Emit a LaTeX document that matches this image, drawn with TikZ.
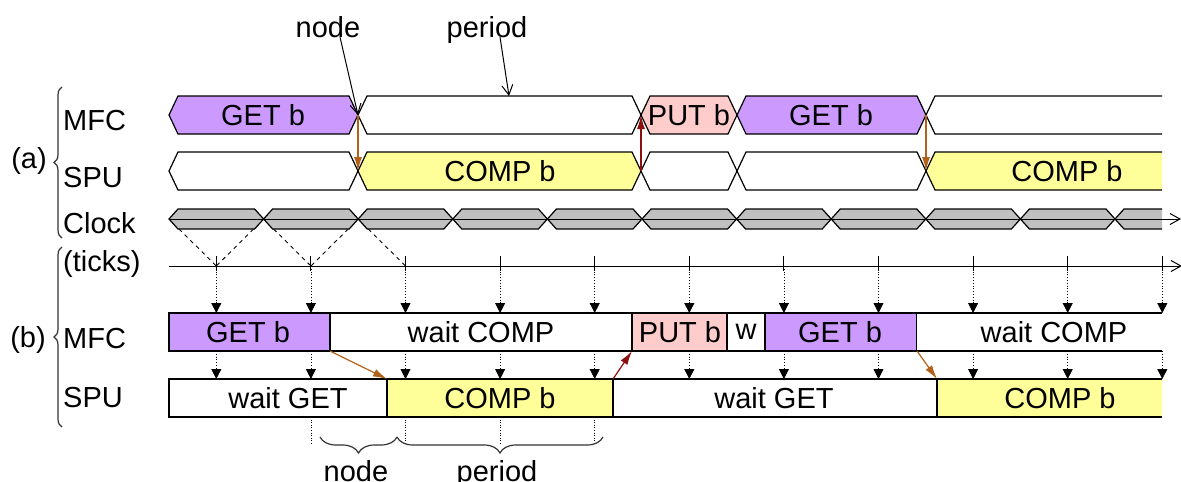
\documentclass[tikz,border=0pt]{standalone}
\usepackage{fontspec}
\setmainfont{Liberation Sans}
\usetikzlibrary{arrows.meta,decorations.pathreplacing,calc}
\definecolor{cpurple}{RGB}{204,153,255}
\definecolor{cpink}{RGB}{255,204,204}
\definecolor{cyellow}{RGB}{255,255,153}
\definecolor{cgray}{RGB}{192,192,192}
\definecolor{cbrown}{RGB}{178,98,24}
\definecolor{cred}{RGB}{140,16,16}
\newcommand\hexa[4]{\draw[shp,fill=#4] (#1,#3) -- (#1+9,#3-19) -- (#2-9,#3-19) -- (#2,#3) -- (#2-9,#3+19) -- (#1+9,#3+19) -- cycle;}
\newcommand\hexopen[4]{\fill[#4] (#1,#3) -- (#1+9,#3-19) -- (#2,#3-19) -- (#2,#3+19) -- (#1+9,#3+19) -- cycle;
  \draw[shp] (#2,#3-19) -- (#1+9,#3-19) -- (#1,#3) -- (#1+9,#3+19) -- (#2,#3+19);}
\begin{document}
\begin{tikzpicture}[x=1pt,y=-1pt,
  shp/.style={line width=1.2pt,draw=black,line join=miter},
  txt/.style={inner sep=0pt,font=\fontsize{29}{34}\selectfont},
  bx/.style={draw=black,line width=1.2pt,inner sep=0pt,outer sep=0pt,anchor=north west,minimum height=38pt},
  barb/.style={line width=1pt,-{Straight Barb[length=10pt,width=11pt]}},
  carrow/.style={line width=1.2pt,-{Latex[length=14pt,width=8pt]}},
  darrow/.style={line width=0.8pt,dotted,-{Triangle[length=10pt,width=10pt]}},
  dsh/.style={line width=0.9pt,dash pattern=on 4pt off 4pt},
  brc/.style={line width=1.2pt,draw=black!80,decorate}]
\useasboundingbox (0,0) rectangle (1181,482);

% ---------- labels left ----------
\node[txt,anchor=base west] (la1) at (63,130) {MFC};
\node[txt,anchor=base west] (la2) at (63,187) {SPU};
\node[txt,anchor=base west] (la3) at (63,233) {Clock};
\node[txt,anchor=base west] (lb0) at (63,271) {(ticks)};
\node[txt,anchor=base west] (lb1) at (63,348) {MFC};
\node[txt,anchor=base west] (lb2) at (63,407) {SPU};
\node[txt] (la) at (29,161) {(a)};
\node[txt] (lb) at (28,340) {(b)};
\draw[brc,decoration={brace,amplitude=8pt}] (62,238) -- (62,87);
\draw[brc,decoration={brace,amplitude=8pt}] (62,427) -- (62,247);

% ---------- dashed clock-to-tick lines ----------
\coordinate (k0) at (216.3,266);
\coordinate (k1) at (310.9,266);
\coordinate (k2) at (405.5,266);
\draw[dsh] (179,229) -- (k0);
\draw[dsh] (253.6,229) -- (k0);
\draw[dsh] (273.6,229) -- (k1);
\draw[dsh] (348.2,229) -- (k1);
\draw[dsh] (368.2,229) -- (k2);

% ---------- (a) MFC ----------
\hexa{169}{358}{115}{cpurple}
\hexa{358}{641}{115}{white}
\hexa{641}{737}{115}{cpink}
\hexa{737}{926}{115}{cpurple}
\hexopen{926}{1162}{115}{white}
\node[txt] (ag1) at (263,115) {GET b};
\node[txt] (ap1) at (689,115) {PUT b};
\node[txt] (ag2) at (831,115) {GET b};
% ---------- (a) SPU ----------
\hexa{169}{358}{171}{white}
\hexa{358}{641}{171}{cyellow}
\hexa{641}{737}{171}{white}
\hexa{737}{926}{171}{white}
\hexopen{926}{1162}{171}{cyellow}
\node[txt] (ac1) at (500,171) {COMP b};
\node[txt] (ac2) at (1067,171) {COMP b};
% ---------- clock ----------
\foreach \k in {0,...,9}{
  \pgfmathsetmacro\xa{169+94.6*\k}
  \pgfmathsetmacro\xb{\xa+94.6}
  \draw[shp,fill=cgray] (\xa,219) -- (\xa+9,209) -- (\xb-9,209) -- (\xb,219) -- (\xb-9,229) -- (\xa+9,229) -- cycle;
}
\fill[cgray] (1115,219) -- (1124,209) -- (1162,209) -- (1162,229) -- (1124,229) -- cycle;
\draw[shp] (1162,209) -- (1124,209) -- (1115,219) -- (1124,229) -- (1162,229);
\coordinate (clk0) at (169,219);
\coordinate (clkend) at (1181,219);
\draw[barb] (clk0) -- (clkend);

% transitions (a)
\coordinate (m1) at (358,115); \coordinate (s1) at (358,171);
\coordinate (m2) at (641,115); \coordinate (s2) at (641,171);
\coordinate (m3) at (926,115); \coordinate (s3) at (926,171);
\draw[carrow,cbrown] (m1) -- (s1);
\draw[carrow,cred] (s2) -- (m2);
\draw[carrow,cbrown] (m3) -- (s3);

% top labels
\node[txt,anchor=base] (lnode) at (328,37) {node};
\node[txt,anchor=base] (lperiod) at (487,37) {period};
\coordinate (pt) at (509,96);
\draw[barb] ([xshift=12pt]lnode.base) -- (m1);
\draw[barb] ([xshift=13pt]lperiod.base) -- (pt);

% ---------- (b) ticks axis ----------
\coordinate (tax0) at (169,266);
\coordinate (tax1) at (1182,266);
\draw[barb] (tax0) -- (tax1);

% ---------- (b) MFC boxes ----------
\node[bx,fill=cpurple,minimum width=161pt] (bg1) at (169,313) {};
\node[bx,fill=white,minimum width=302pt] (bw1) at (330,313) {};
\node[bx,fill=cpink,minimum width=95pt] (bp1) at (632,313) {};
\node[bx,fill=white,minimum width=38pt] (bw2) at (727,313) {};
\node[bx,fill=cpurple,minimum width=152pt] (bg2) at (765,313) {};
\fill[white] (917,313) rectangle (1162,351);
\coordinate (bw3a) at (1162,313); \coordinate (bw3b) at (1162,351);
\draw[shp] (bg2.north east) -- (bw3a);
\draw[shp] (bg2.south east) -- (bw3b);
\node[txt] at (248,332) {GET b};
\node[txt] at (481,332) {wait COMP};
\node[txt] at (680,332) {PUT b};
\node[txt] at (746,332) {w};
\node[txt] at (840,332) {GET b};
\node[txt] at (1054,332) {wait COMP};

% ---------- (b) SPU boxes ----------
\node[bx,fill=white,minimum width=218pt] (sw1) at (169,379) {};
\node[bx,fill=cyellow,minimum width=226pt] (sc1) at (387,379) {};
\node[bx,fill=white,minimum width=324pt] (sw2) at (613,379) {};
\fill[cyellow] (937,379) rectangle (1162,417);
\coordinate (sc2a) at (1162,379); \coordinate (sc2b) at (1162,417);
\draw[shp] (sc2a) -- (sw2.north east) -- (sw2.south east) -- (sc2b);
\node[txt] at (288,398) {wait GET};
\node[txt] at (500,398) {COMP b};
\node[txt] at (774,398) {wait GET};
\node[txt] at (1060,398) {COMP b};

% ---------- tick arrows ----------
\foreach \k in {0,...,10}{
  \pgfmathsetmacro\xt{216.3+94.6*\k}
  \draw[line width=1pt] (\xt,256) -- (\xt,271);
  \draw[darrow] (\xt,266) -- (\xt,313);
  \draw[darrow] (\xt,351) -- (\xt,379);
}

% ---------- (b) dependency arrows ----------
\draw[carrow,cbrown] (bg1.south east) -- (sc1.north west);
\draw[carrow,cred] (sc1.north east) -- (bp1.south west);
\draw[carrow,cbrown] (bg2.south east) -- (sw2.north east);

% ---------- bottom ----------
\foreach \xd in {310.9,405.5,500.1,594.7}{
  \draw[line width=0.6pt,dotted] (\xd,417) -- (\xd,445);
}
\draw[brc,decoration={brace,amplitude=16pt,mirror}] (320,437) -- (397,437);
\draw[brc,decoration={brace,amplitude=16pt,mirror}] (397,437) -- (603,437);
\node[txt,anchor=base] (bnode) at (356,481) {node};
\node[txt,anchor=base] (bperiod) at (497,481) {period};
\end{tikzpicture}
\end{document}
